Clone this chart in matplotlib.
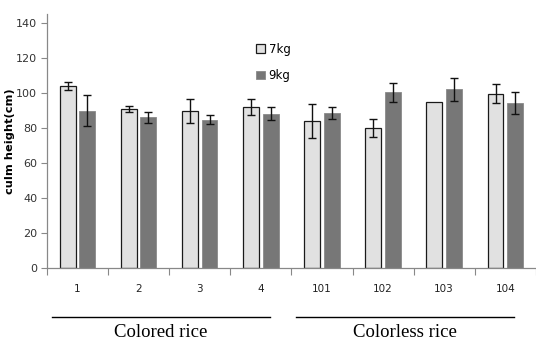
import numpy as np
import matplotlib.pyplot as plt
from matplotlib.transforms import blended_transform_factory

categories = ['1', '2', '3', '4', '101', '102', '103', '104']
kg7 = [104.2, 90.9, 89.7, 92.0, 83.8, 80.0, 94.9, 99.6]
kg7_err = [2.3, 1.9, 7.0, 4.4, 9.6, 5.0, 0.0, 5.6]
kg9 = [89.9, 86.1, 84.6, 88.2, 88.4, 100.4, 102.1, 94.3]
kg9_err = [9.0, 3.0, 2.6, 3.5, 3.5, 5.3, 6.7, 6.2]
groups = [('Colored rice', 0, 4), ('Colorless rice', 4, 8)]

fig = plt.figure(figsize=(5.36, 3.43), dpi=100)
ax = fig.add_axes([0.0877, 0.2187, 0.912, 0.74])

x = np.arange(len(categories)) + 0.5
w = 0.26
off = 0.16
ekw = dict(ecolor='#111111', elinewidth=1.0, capsize=3, capthick=1.0)

e7 = [v if v > 0 else np.nan for v in kg7_err]
ax.bar(x - off, kg7, w, color='#e1e1e1', edgecolor='#1a1a1a', linewidth=0.9,
       yerr=e7, error_kw=ekw, label='7kg', zorder=2)
ax.bar(x + off, kg9, w, color='#777777', edgecolor='#8a8a8a', linewidth=0.6,
       yerr=kg9_err, error_kw=ekw, label='9kg', zorder=2)

ax.set_xlim(0, len(categories))
ax.set_ylim(0, 145)
ax.set_yticks(np.arange(0, 141, 20))
ax.set_xticks(np.arange(len(categories) + 1))
ax.set_xticklabels([])
ax.set_xticks(x, minor=True)
ax.set_xticklabels(categories, minor=True)
ax.tick_params(axis='x', which='minor', length=0, pad=11.5, labelsize=7.5, colors='#222222')
ax.tick_params(axis='x', which='major', length=5, color='#888888', direction='out')
ax.tick_params(axis='y', length=4, color='#888888', labelsize=8, pad=3, labelcolor='#333333')

for s in ['top', 'right']:
    ax.spines[s].set_visible(False)
for s in ['left', 'bottom']:
    ax.spines[s].set_color('#888888')
    ax.spines[s].set_linewidth(0.9)

ax.set_ylabel('culm height(cm)', fontsize=8.2, fontweight='bold')
ax.yaxis.set_label_coords(-0.066, 0.5)

leg = ax.legend(loc='upper left', bbox_to_anchor=(0.428, 0.888), frameon=False,
                borderaxespad=0, borderpad=0,
                fontsize=8.5, handlelength=0.75, handleheight=0.75, handletextpad=0.3,
                labelspacing=1.15)

tr = blended_transform_factory(ax.transData, ax.transAxes)
for name, a, b in groups:
    ax.plot([a + 0.08, b - 0.35], [-0.193, -0.193], transform=tr, color='black',
            linewidth=1.0, clip_on=False)
    ax.text((a + 0.08 + b - 0.35) / 2, -0.255, name, transform=tr, ha='center', va='center',
            fontsize=13.5, family='Liberation Serif')

fig.savefig('out.png', dpi=100)
